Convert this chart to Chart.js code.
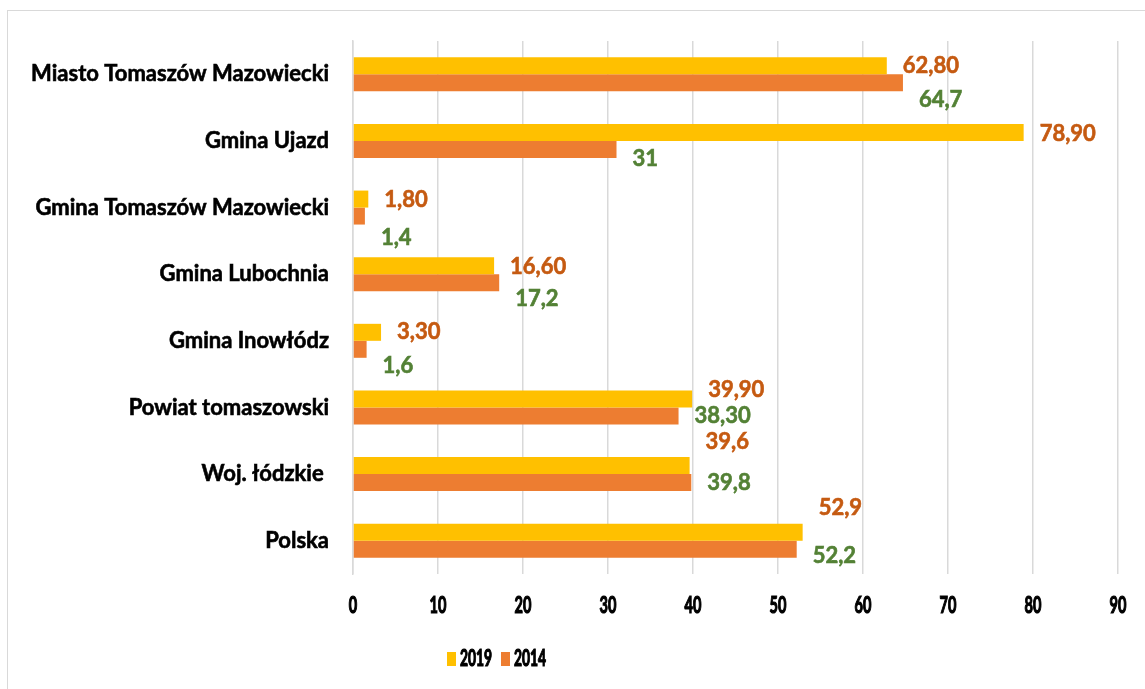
<!DOCTYPE html>
<html>
<head>
<meta charset="utf-8">
<script src="https://cdn.jsdelivr.net/npm/chart.js@4"></script>
<style>
    html, body { margin: 0; padding: 0; background: #fff; overflow: hidden; }
    #wrap { position: relative; width: 1145px; height: 689px; }
    #frame { position: absolute; left: 7px; top: 10px; width: 1150px; height: 700px; border: 1px solid #d9d9d9; box-sizing: border-box; }
    canvas { position: absolute; left: 0; top: 0; }
</style>
</head>
<body>
<div id="wrap">
    <div id="frame"></div>
    <canvas id="chart" width="1145" height="689"></canvas>
</div>
<script>
const categories = ['Miasto Tomaszów Mazowiecki', 'Gmina Ujazd', 'Gmina Tomaszów Mazowiecki', 'Gmina Lubochnia',
    'Gmina Inowłódz', 'Powiat tomaszowski', 'Woj. łódzkie ', 'Polska'];
const values2019 = [62.8, 78.9, 1.8, 16.6, 3.3, 39.9, 39.6, 52.9];
const values2014 = [64.7, 31, 1.4, 17.2, 1.6, 38.3, 39.8, 52.2];
const labels2019 = ['62,80', '78,90', '1,80', '16,60', '3,30', '39,90', '39,6', '52,9'];
const labels2014 = ['64,7', '31', '1,4', '17,2', '1,6', '38,30', '39,8', '52,2'];
const xTicks = [0, 10, 20, 30, 40, 50, 60, 70, 80, 90];

// label vertical shifts (px), like the hand-moved labels in the original
const shift2019 = [0, 1, 1, 1, 0, -9, -24, -24];
const shift2014 = [17, 9, 22, 16, 17, 0, 0, 7];

const series = [
    { label: '2019', data: values2019, color: '#FFC000', text: labels2019, shift: shift2019, textColor: '#C55A11' },
    { label: '2014', data: values2014, color: '#ED7D31', text: labels2014, shift: shift2014, textColor: '#538135' }
];

const FONT = 'Lato, "Open Sans", sans-serif';

// the axis numbers and legend in the original are squeezed narrow
function narrowText(ctx, text, x, y, squeeze, align) {
    ctx.save();
    ctx.translate(x, y);
    ctx.scale(squeeze, 1);
    ctx.textAlign = align;
    ctx.lineWidth = 1.2;
    ctx.strokeStyle = ctx.fillStyle;
    ctx.strokeText(text, 0, 0);
    ctx.fillText(text, 0, 0);
    ctx.restore();
}

const barLabels = {
    id: 'barLabels',
    afterDatasetsDraw(chart) {
        const ctx = chart.ctx;
        ctx.save();
        ctx.font = 'bold 22px ' + FONT;
        ctx.textAlign = 'left';
        ctx.textBaseline = 'middle';
        ctx.lineWidth = 0.6;
        series.forEach((s, i) => {
            const meta = chart.getDatasetMeta(i);
            ctx.fillStyle = s.textColor;
            ctx.strokeStyle = s.textColor;
            meta.data.forEach((bar, j) => {
                ctx.strokeText(s.text[j], bar.x + 16, bar.y + s.shift[j]);
                ctx.fillText(s.text[j], bar.x + 16, bar.y + s.shift[j]);
            });
        });

        // x axis numbers
        const xs = chart.scales.x;
        ctx.fillStyle = '#000';
        ctx.font = 'bold 22px ' + FONT;
        xs.ticks.forEach(t => {
            narrowText(ctx, String(t.value), xs.getPixelForValue(t.value), 606, 0.66, 'center');
        });

        // legend
        ctx.font = 'bold 22px ' + FONT;
        let lx = 447;
        chart.data.datasets.forEach(ds => {
            ctx.fillStyle = ds.backgroundColor;
            ctx.fillRect(lx, 652, 9, 14);
            ctx.fillStyle = '#000';
            narrowText(ctx, ds.label, lx + 13, 659, 0.63, 'left');
            lx += 54;
        });
        ctx.restore();
    }
};

new Chart(document.querySelector('#chart'), {
    type: 'bar',
    data: {
        labels: categories,
        datasets: series.map(s => ({
            label: s.label,
            data: s.data,
            backgroundColor: s.color,
            categoryPercentage: 0.51,
            barPercentage: 1.0
        }))
    },
    options: {
        indexAxis: 'y',
        responsive: false,
        animation: false,
        layout: { padding: { left: 0, top: 41, right: 27, bottom: 0 } },
        plugins: { legend: { display: false }, tooltip: { enabled: false } },
        scales: {
            x: {
                min: 0,
                max: 90,
                afterBuildTicks: (scale) => { scale.ticks = xTicks.map(v => ({ value: v })); },
                afterFit: (scale) => { scale.height = 115; },
                grid: { color: '#d9d9d9', lineWidth: 1.5, drawTicks: false },
                border: { display: false },
                ticks: { display: false }
            },
            y: {
                afterFit: (scale) => { scale.width = 353; },
                grid: { display: false, drawTicks: false },
                border: { display: true, color: '#d9d9d9', width: 1.5 },
                ticks: {
                    padding: 24,
                    color: '#000',
                    textStrokeColor: '#000',
                    textStrokeWidth: 0.6,
                    font: { family: FONT, weight: 'bold', size: 22 }
                }
            }
        }
    },
    plugins: [barLabels]
});
</script>
</body>
</html>
